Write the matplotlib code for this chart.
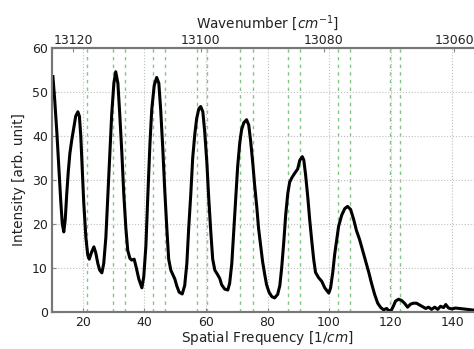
import matplotlib
matplotlib.use("Agg")
import matplotlib.pyplot as plt

# spectrum trace (spatial frequency [1/cm], intensity [arb. unit])
spatial_freq = [10.3, 10.9, 11.56, 12.2, 12.86, 13.35, 13.83, 14.3, 14.8, 15.3, 15.8, 16.4, 17.1, 17.7,
                18.4, 18.9, 19.35, 19.8, 20.3, 21.0, 21.6, 22.1, 22.8, 23.6, 24.2, 24.9, 25.5, 26.2,
                26.8, 27.5, 28.1, 28.8, 29.4, 30.1, 30.7, 31.4, 32.0, 32.7, 33.3, 34.0, 34.6, 35.3,
                35.9, 36.7, 37.4, 38.2, 39.2, 39.8, 40.5, 41.1, 41.8, 42.4, 43.2, 44.0, 44.7, 45.3,
                46.0, 46.6, 47.3, 47.9, 48.6, 49.2, 49.9, 50.5, 51.3, 52.3, 53.1, 53.8, 54.4, 55.1,
                55.7, 56.4, 57.0, 57.7, 58.3, 59.0, 59.6, 60.3, 60.9, 61.6, 62.2, 62.9, 63.7, 64.5,
                65.1, 66.1, 67.1, 67.7, 68.4, 69.0, 69.7, 70.3, 71.0, 71.6, 72.3, 73.2, 73.9, 74.5,
                75.2, 75.8, 76.5, 77.1, 77.8, 78.4, 79.1, 79.7, 80.5, 81.4, 82.3, 83.3, 84.0, 84.6,
                85.3, 85.9, 86.6, 87.2, 87.9, 88.8, 89.8, 90.5, 91.3, 91.8, 92.4, 93.1, 93.7, 94.4,
                95.0, 95.6, 96.6, 97.6, 98.6, 99.9, 100.5, 101.2, 101.8, 102.5, 103.1, 104.1, 105.1,
                106.0, 107.0, 108.0, 108.9, 109.9, 110.9, 111.9, 112.9, 113.8, 114.8, 115.8, 116.8,
                117.7, 118.7, 119.5, 120.3, 121.0, 121.6, 122.6, 123.6, 124.5, 125.5, 126.5, 127.4,
                128.4, 129.4, 130.4, 131.4, 132.3, 133.3, 134.3, 135.3, 136.2, 137.2, 137.9, 138.8,
                139.8, 141.1, 142.4, 143.7, 145.0, 146.3, 147.3, 149.0]
intensity = [53.5, 48, 41, 33, 25, 20, 18.2, 21, 27, 32, 36, 39, 42, 44.5,
             45.5, 44.5, 40, 33, 25, 17, 13, 12, 13.5, 14.8, 13.5, 11, 9.5, 8.9,
             11, 17, 26, 36, 45, 52, 54.6, 52, 45, 36, 27, 19, 14, 12.2,
             11.8, 12.0, 10, 7.5, 5.5, 8, 15, 26, 38, 46, 51.5, 53.3, 52, 46,
             37, 28, 19, 12, 9.5, 8.6, 7.5, 6, 4.5, 4.1, 6, 11, 19, 27,
             35, 40.5, 44, 46.2, 46.7, 45.5, 41, 34, 26, 18, 12, 9.5, 8.6, 7.6,
             6.2, 5.2, 5.0, 6.5, 11, 18, 26, 33, 38.5, 41.5, 43, 43.7, 42.5, 39,
             34, 29, 24, 19, 15, 11.5, 8.5, 6.2, 4.5, 3.5, 3.2, 4.0, 6, 10,
             16, 22, 27, 29.5, 30.5, 31.5, 32.5, 34.5, 35.3, 34.5, 31, 26, 21, 16,
             12, 9, 7.8, 7, 5.5, 4.3, 5.5, 9, 13, 16.5, 19.5, 22, 23.5,
             24.0, 23.3, 21, 18.5, 16.5, 14, 11.5, 9, 6.5, 4, 2, 1.0,
             0.5, 0.8, 0.2, 0.5, 1.5, 2.5, 2.9, 2.6, 2.0, 1.1, 1.8, 2.0,
             2.0, 1.6, 1.2, 0.8, 1.1, 0.6, 1.1, 0.6, 1.3, 1.0, 1.7, 0.9,
             0.7, 0.9, 0.8, 0.7, 0.6, 0.5, 0.4, 0.4]

# marker lines (spatial frequency)
marker_freqs = [21.3, 29.7, 33.6, 42.7, 46.6, 57.0, 60.3, 71.0, 75.2, 86.6, 90.5,
                102.8, 106.7, 119.7, 123.2]

# bottom / left ticks
x_ticks = [20, 40, 60, 80, 100, 120, 140]
y_ticks = [0, 10, 20, 30, 40, 50, 60]

# top axis: wavenumber labels and their spatial-frequency positions
wn_labels = ["13120", "13100", "13080", "13060"]
wn_positions = [16.8, 58.3, 98.2, 140.6]

W, H = 474, 349
fig = plt.figure(figsize=(W / 100, H / 100), dpi=100)
left, bottom = 52 / W, (H - 312) / H
ax = fig.add_axes([left, bottom, 431 / W, 264 / H])

for f in marker_freqs:
    ax.axvline(f, color="#55aa55", ls="--", lw=1.0, alpha=0.7, dashes=(2.5, 3), zorder=1)

ax.plot(spatial_freq, intensity, color="black", lw=2.2, zorder=3)

ax.set_xlim(10, 150)
ax.set_ylim(0, 60)
ax.set_xticks(x_ticks)
ax.set_yticks(y_ticks)
ax.grid(True, color="#c0c0c0", ls=":", lw=0.8, zorder=0)
fs = 9.0
lfs = 9.8
ax.tick_params(labelsize=fs, direction="in", length=3, color="#888888", pad=3,
               labelcolor="#222222")
ax.set_xlabel("Spatial Frequency [$1/cm$]", fontsize=lfs, labelpad=0, color="#222222")
ax.set_ylabel("Intensity [arb. unit]", fontsize=lfs, labelpad=4, color="#222222")
for s in ax.spines.values():
    s.set_color("#777777")
    s.set_linewidth(1.5)

ax2 = ax.twiny()
ax2.set_xlim(ax.get_xlim())
ax2.set_xticks(wn_positions)
ax2.set_xticklabels(wn_labels)
ax2.tick_params(labelsize=fs, direction="in", length=3, color="#888888", pad=1,
                labelcolor="#222222")
ax2.set_xlabel("Wavenumber [$cm^{-1}$]", fontsize=lfs, labelpad=4, color="#222222")
for s in ax2.spines.values():
    s.set_color("#777777")
    s.set_linewidth(1.5)

fig.savefig("out.png", dpi=100)
